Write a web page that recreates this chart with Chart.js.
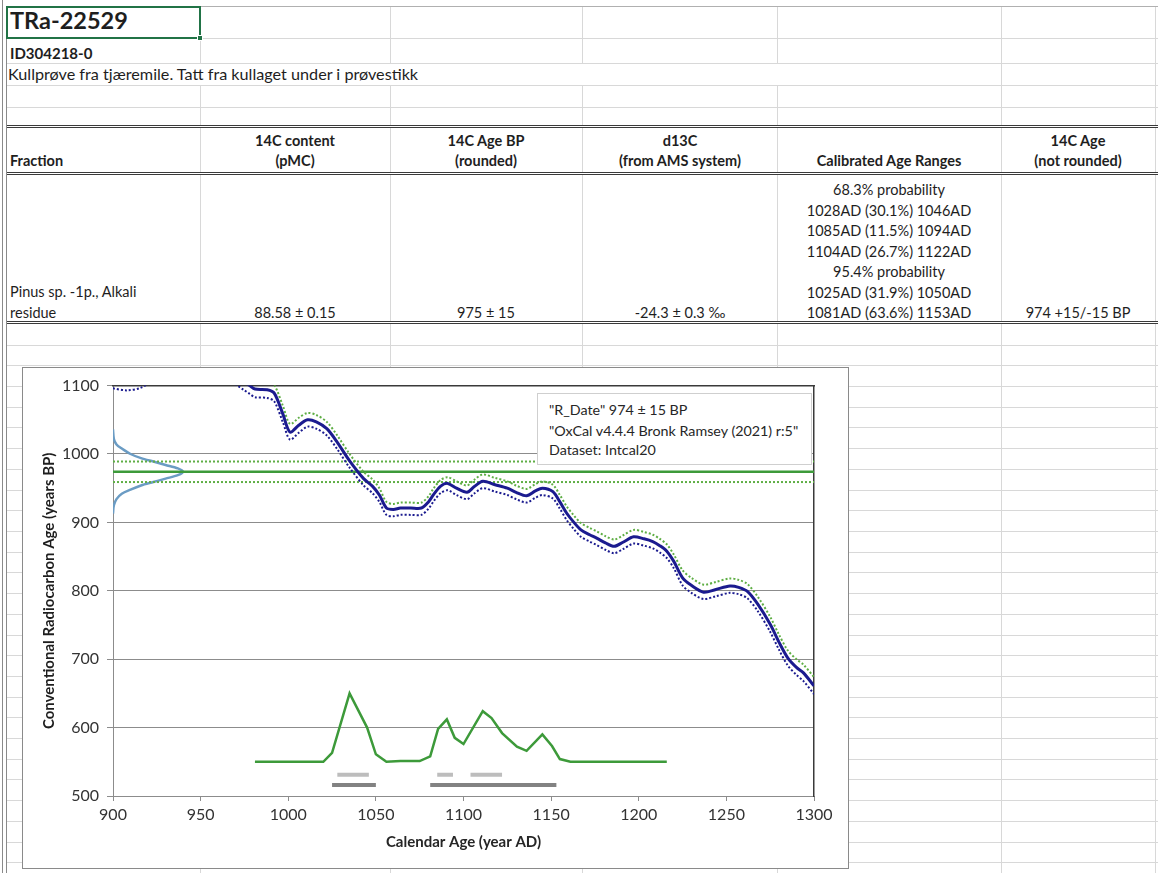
<!DOCTYPE html>
<html>
<head>
<meta charset="utf-8">
<script src="https://cdn.jsdelivr.net/npm/chart.js@4.4.1/dist/chart.umd.min.js"></script>
<style>
  body { margin:0; width:1158px; height:873px; overflow:hidden; background:#fff;
         font-family: Lato, 'Open Sans', sans-serif; color:#1e1e1e; position:relative; }
  #sheet { position:absolute; left:0; top:0; width:1158px; height:873px; }
  .ln { position:absolute; }
  .t { position:absolute; white-space:nowrap; font-size:14.5px; line-height:1; }
  .c { transform:translate(-50%,-50%); }
  .l { transform:translate(0,-50%); }
  .b { font-weight:bold; }
  #chartbox { position:absolute; left:22px; top:367px; width:827px; height:502px;
              box-sizing:border-box; border:1px solid #8a8a8a; background:#fff; }
  #legendbox { position:absolute; left:537px; top:393px; width:275px; height:72px;
               box-sizing:border-box; border:1px solid #cfcfcf; background:#fff;
               font-size:14.3px; color:#262626; }
  #legendbox div { position:absolute; left:11px; white-space:nowrap; transform:translate(0,-50%); }
</style>
</head>
<body>
<div id="sheet"></div>
<div id="chartbox"><canvas id="chart" width="825" height="500"></canvas></div>
<div id="legendbox">
  <div style="top:15px">"R_Date" 974 ± 15 BP</div>
  <div style="top:36px">"OxCal v4.4.4 Bronk Ramsey (2021) r:5"</div>
  <div style="top:55px">Dataset: Intcal20</div>
</div>
<script>
'use strict';

// ─── Chart data ──────────────────────────────────────────────────────────────
const xTicks = [900, 950, 1000, 1050, 1100, 1150, 1200, 1250, 1300];
const yTicks = [500, 600, 700, 800, 900, 1000, 1100];

// IntCal20 calibration curve (year AD -> BP) with its 1-sigma envelope
const calYears = [900, 908, 916, 925, 940, 955, 965, 975, 978, 981,
                  988, 992, 997, 1001, 1006, 1011, 1016, 1022, 1028, 1035,
                  1043, 1048, 1052, 1056, 1060, 1064, 1070, 1076, 1080, 1083,
                  1087, 1091, 1096, 1102, 1106, 1111, 1118, 1125, 1130, 1136,
                  1141, 1145, 1151, 1155, 1159, 1163, 1167, 1172, 1176, 1181,
                  1186, 1191, 1197, 1203, 1208, 1212, 1216, 1220, 1225, 1230,
                  1237, 1244, 1252, 1257, 1262, 1268, 1275, 1280, 1285, 1290,
                  1294, 1300];
const calBP = [1108, 1106, 1110, 1124, 1140, 1136, 1122, 1105, 1100, 1095,
               1094, 1089, 1058, 1032, 1042, 1050, 1047, 1037, 1017, 990,
               964, 953, 940, 921, 919, 921, 921, 921, 930, 941,
               953, 957, 950, 944, 952, 960, 955, 950, 944, 939,
               946, 950, 945, 930, 913, 900, 889, 882, 877, 870,
               865, 871, 879, 876, 872, 866, 858, 843, 819, 808,
               798, 802, 807, 805, 799, 780, 751, 725, 702, 688,
               680, 661];
const calUpper = [1120, 1118, 1122, 1136, 1152, 1148, 1134, 1117, 1112, 1107,
                  1106, 1101, 1070, 1044, 1053, 1060, 1057, 1047, 1027, 1000,
                  974, 963, 950, 930, 927, 929, 929, 929, 938, 950,
                  962, 966, 960, 954, 962, 970, 965, 960, 954, 949,
                  956, 960, 955, 940, 923, 910, 899, 892, 887, 880,
                  875, 881, 889, 886, 882, 876, 868, 853, 830, 819,
                  809, 813, 818, 816, 810, 791, 762, 736, 713, 700,
                  692, 674];
const calLower = [1096, 1093, 1097, 1111, 1128, 1124, 1110, 1093, 1088, 1083,
                  1082, 1077, 1046, 1021, 1031, 1040, 1037, 1027, 1007, 980,
                  954, 943, 930, 911, 909, 911, 911, 911, 920, 931,
                  943, 947, 940, 934, 942, 950, 945, 940, 934, 929,
                  936, 940, 935, 920, 903, 890, 879, 872, 867, 860,
                  855, 861, 869, 866, 862, 856, 848, 833, 808, 797,
                  788, 792, 797, 795, 789, 770, 740, 714, 691, 677,
                  668, 649];

// Measured date 974 ± 15 BP
const dateMean = 974;
const dateLow = 959;
const dateHigh = 989;

// Radiocarbon date distribution drawn along the y axis
const gaussBP   = [1036, 1022, 1014, 1008, 1000, 994, 989, 984, 979, 974, 969, 964, 959, 954, 948, 942, 934, 925, 913];
const gaussYear = [900, 900.5, 902, 905, 910, 916, 923, 930, 937, 940, 937, 930, 923, 916, 910, 905, 902, 900.5, 900];

// Calibrated probability distribution (plotted on the BP axis)
const probYears = [981, 1020, 1025, 1035, 1045, 1050, 1056, 1064, 1075, 1081, 1085.5, 1090.5,
                   1095, 1100, 1111, 1116, 1122, 1130.5, 1136, 1145, 1150.5, 1155, 1161, 1216];
const probVals  = [550, 550, 563, 650, 600, 561, 550, 551, 551, 558, 598, 612,
                   585, 576, 624, 614, 592, 572, 566, 590, 573, 554, 550, 550];

// Calibrated ranges
const range68Start = [1028, 1085, 1104];
const range68End   = [1046, 1094, 1122];
const range68Level = 531;
const range95Start = [1025, 1081];
const range95End   = [1050, 1153];
const range95Level = 516;

// ─── Spreadsheet backdrop ────────────────────────────────────────────────────
const GRID = '#d8d8d8';
const DARK = '#3a3a3a';
const FONT = 'Lato, "Open Sans", sans-serif';
const sheet = document.getElementById('sheet');

function el(cls, style, text) {
  const d = document.createElement('div');
  d.className = cls;
  Object.assign(d.style, style);
  if (text != null) d.textContent = text;
  sheet.appendChild(d);
  return d;
}
function hline(y, x1, x2, color) {
  el('ln', { left: x1 + 'px', top: y + 'px', width: (x2 - x1) + 'px', height: '1px', background: color || GRID });
}
function vline(x, y1, y2, color) {
  el('ln', { left: x + 'px', top: y1 + 'px', width: '1px', height: (y2 - y1) + 'px', background: color || GRID });
}
function txt(s, x, y, align, extra) {
  return el('t ' + align + (extra ? ' ' + extra : ''), { left: x + 'px', top: y + 'px' }, s);
}

function buildSheet() {
  const cols = [200, 390, 582, 777, 1001, 1155];
  hline(6, 6, 1158, '#b0b0b0');
  [38, 63, 85, 107].forEach(y => hline(y, 6, 1158));
  const bands = [[7, 38], [38, 63], [85, 107], [107, 125], [128, 172], [175, 321], [324, 873]];
  cols.forEach(x => bands.forEach(b => vline(x, b[0], b[1])));
  vline(1001, 63, 85);
  vline(1155, 63, 85);
  for (let y = 344.7; y < 873; y += 20.7) hline(Math.round(y), 6, 1158);
  [125, 172, 321].forEach(y => { hline(y, 6, 1158, DARK); hline(y + 2, 6, 1158, DARK); });
  vline(2, 0, 873, '#8a8a8a');
  vline(6, 6, 873, '#8a8a8a');

  // selected cell
  el('ln', { left: '6px', top: '6px', width: '195px', height: '33px', boxSizing: 'border-box',
             border: '2px solid #217346' });
  el('ln', { left: '197px', top: '35px', width: '6px', height: '6px', background: '#217346',
             border: '1px solid #fff', boxSizing: 'border-box' });

  txt('TRa-22529', 10, 21, 'l', 'b').style.fontSize = '23.5px';
  txt('ID304218-0', 10, 53, 'l', 'b').style.fontSize = '15px';
  txt('Kullprøve fra tjæremile. Tatt fra kullaget under i prøvestikk', 8, 74, 'l').style.fontSize = '16.2px';

  txt('Fraction', 10, 161, 'l', 'b');
  txt('14C content', 295, 141, 'c', 'b');  txt('(pMC)', 295, 161, 'c', 'b');
  txt('14C Age BP', 486, 141, 'c', 'b');   txt('(rounded)', 486, 161, 'c', 'b');
  txt('d13C', 680, 141, 'c', 'b');         txt('(from AMS system)', 680, 161, 'c', 'b');
  txt('Calibrated Age Ranges', 889, 161, 'c', 'b');
  txt('14C Age', 1078, 141, 'c', 'b');     txt('(not rounded)', 1078, 161, 'c', 'b');

  const ranges = ['68.3% probability', '1028AD (30.1%) 1046AD', '1085AD (11.5%) 1094AD',
                  '1104AD (26.7%) 1122AD', '95.4% probability', '1025AD (31.9%) 1050AD',
                  '1081AD (63.6%) 1153AD'];
  ranges.forEach((s, i) => txt(s, 889, 190 + i * 20.5, 'c'));
  txt('Pinus sp. -1p., Alkali', 10, 292, 'l');
  txt('residue', 10, 313, 'l');
  txt('88.58 ± 0.15', 295, 313, 'c');
  txt('975 ± 15', 486, 313, 'c');
  txt('-24.3 ± 0.3 ‰', 680, 313, 'c');
  txt('974 +15/-15 BP', 1078, 313, 'c');
}

// ─── Chart ───────────────────────────────────────────────────────────────────
function pts(xs, ys) {
  return xs.map((x, i) => ({ x: x, y: ys[i] }));
}
function hLineData(v) {
  return [{ x: xTicks[0], y: v }, { x: xTicks[xTicks.length - 1], y: v }];
}
function lineSet(data, color, width, extra) {
  return Object.assign({
    data: data, showLine: true, borderColor: color, borderWidth: width,
    pointRadius: 0, fill: false, tension: 0
  }, extra || {});
}

function renderChart() {
  const NAVY = '#1b1b8f';
  const GREEN = '#3d9a3a';
  const GREEN_DOT = '#5fae45';
  const DOT = [2, 2];

  const datasets = [
    lineSet(pts(calYears, calBP), NAVY, 3, { tension: 0.3, order: 1 }),
    lineSet(pts(calYears, calLower), NAVY, 2, { tension: 0.3, borderDash: DOT, order: 2 }),
    lineSet(pts(calYears, calUpper), GREEN_DOT, 2, { tension: 0.3, borderDash: DOT, order: 3 }),
    lineSet(hLineData(dateMean), GREEN, 2.5, { order: 4 }),
    lineSet(hLineData(dateLow), GREEN_DOT, 2, { borderDash: DOT, order: 4 }),
    lineSet(hLineData(dateHigh), GREEN_DOT, 2, { borderDash: DOT, order: 4 }),
    lineSet(pts(gaussYear, gaussBP), '#6b9cc4', 2.5, { tension: 0.3, order: 5 }),
    lineSet(pts(probYears, probVals), GREEN, 2.5, { order: 1 })
  ];
  range68Start.forEach((s, i) => datasets.push(
    lineSet([{ x: s, y: range68Level }, { x: range68End[i], y: range68Level }], '#bdbdbd', 4, { order: 1 })));
  range95Start.forEach((s, i) => datasets.push(
    lineSet([{ x: s, y: range95Level }, { x: range95End[i], y: range95Level }], '#828282', 4, { order: 1 })));

  const xMin = xTicks[0], xMax = xTicks[xTicks.length - 1];
  const yMin = yTicks[0], yMax = yTicks[yTicks.length - 1];
  const tickFont = { family: FONT, size: 16 };
  const titleFont = { family: FONT, size: 15, weight: 'bold' };
  const plain = v => String(v);

  new Chart(document.getElementById('chart'), {
    type: 'scatter',
    data: { datasets: datasets },
    options: {
      responsive: false,
      animation: false,
      events: [],
      layout: { padding: { left: 13, top: 16, right: 34, bottom: 13 } },
      plugins: { legend: { display: false }, tooltip: { enabled: false } },
      scales: {
        x: {
          type: 'linear', position: 'bottom', min: xMin, max: xMax,
          ticks: { stepSize: xTicks[1] - xTicks[0], color: '#333', font: tickFont, padding: 4,
                   maxRotation: 0, autoSkip: false, callback: plain },
          grid: { drawOnChartArea: false, drawTicks: true, tickLength: 5, color: '#8c8c8c' },
          border: { color: '#8c8c8c', width: 1 },
          title: { display: true, text: 'Calendar Age (year AD)', font: titleFont, color: '#262626',
                   padding: { top: 4, bottom: 4 } },
          afterFit: s => { s.height = 59; }
        },
        y: {
          type: 'linear', position: 'left', min: yMin, max: yMax,
          ticks: { stepSize: yTicks[1] - yTicks[0], color: '#333', font: tickFont, padding: 8,
                   callback: plain },
          grid: { color: '#8c8c8c', tickLength: 6 },
          border: { color: '#8c8c8c', width: 1 },
          title: { display: true, text: 'Conventional Radiocarbon Age (years BP)', font: titleFont,
                   color: '#1e1e1e', padding: { top: 4, bottom: 4 } },
          afterFit: s => { s.width = 77; }
        },
        xTop: {
          type: 'linear', position: 'top', min: xMin, max: xMax,
          ticks: { display: false }, grid: { display: false },
          border: { display: true, color: '#3a3a3a', width: 1.5 },
          afterFit: s => { s.height = 0; }
        },
        yRight: {
          type: 'linear', position: 'right', min: yMin, max: yMax,
          ticks: { display: false }, grid: { display: false },
          border: { display: true, color: '#3a3a3a', width: 1.5 },
          afterFit: s => { s.width = 0; }
        }
      }
    }
  });
}

buildSheet();
renderChart();
</script>
</body>
</html>
